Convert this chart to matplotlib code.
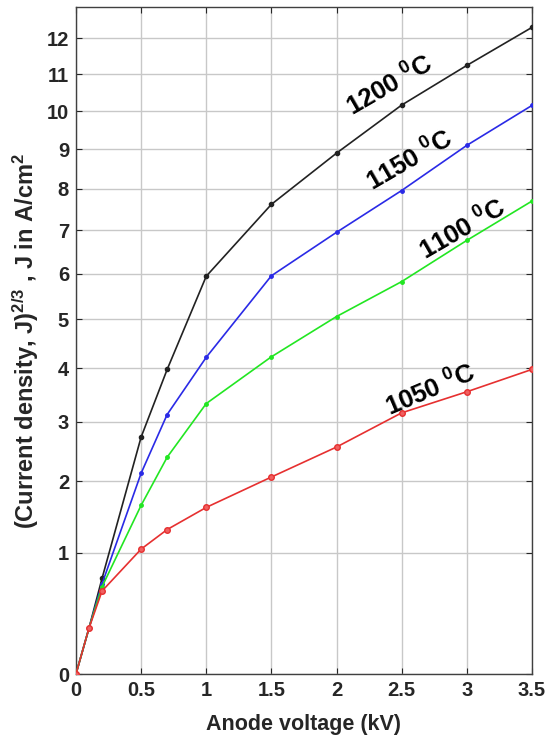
import matplotlib
matplotlib.use('Agg')
import matplotlib.pyplot as plt
import numpy as np

# data (J in A/cm^2, plotted as J^(2/3))
voltage = [0, 0.1, 0.2, 0.5, 0.7, 1.0, 1.5, 2.0, 2.5, 3.0, 3.5]
j_1200 = [0, 0.233, 0.70, 2.73, 3.98, 5.94, 7.62, 8.90, 10.16, 11.24, 12.31]
j_1150 = [0, 0.233, 0.64, 2.13, 3.13, 4.22, 5.95, 6.95, 7.96, 9.10, 10.15]
j_1100 = [0, 0.233, 0.61, 1.64, 2.39, 3.33, 4.23, 5.06, 5.82, 6.76, 7.70]
j_1050 = [0, 0.233, 0.566, 1.045, 1.30, 1.61, 2.07, 2.56, 3.16, 3.55, 3.98]

x_ticks = [0, 0.5, 1, 1.5, 2, 2.5, 3, 3.5]
j_ticks = list(range(0, 13))

labels = ['1200 $^{0}$C', '1150 $^{0}$C', '1100 $^{0}$C', '1050 $^{0}$C']
label_pos = [(2.41, 4.85, 30), (2.56, 4.23, 30), (2.97, 3.66, 30), (2.72, 2.34, 23)]

plt.rcParams['font.family'] = 'Liberation Sans'
plt.rcParams['font.weight'] = 'bold'
plt.rcParams['mathtext.fontset'] = 'custom'
plt.rcParams['mathtext.rm'] = 'Liberation Sans:bold'
plt.rcParams['mathtext.bf'] = 'Liberation Sans:bold'
plt.rcParams['mathtext.default'] = 'bf'

def tf(j):
    return np.power(np.asarray(j, dtype=float), 2.0 / 3.0)

fig = plt.figure(figsize=(5.45, 7.41), dpi=100)
ax = fig.add_axes([0.1394, 0.0904, 0.8366, 0.9002])

ax.plot(voltage, tf(j_1200), color='#222222', lw=1.2, marker='o', ms=3, zorder=3)
ax.plot(voltage, tf(j_1150), color='#2a2ae6', lw=1.2, marker='o', ms=2.5, zorder=3)
ax.plot(voltage, tf(j_1100), color='#22e622', lw=1.2, marker='o', ms=2.5, zorder=3)
ax.plot(voltage, tf(j_1050), color='#e63030', lw=1.2, marker='o', ms=4,
        markerfacecolor='#f06060', zorder=3)

for txt, (x, y, rot) in zip(labels, label_pos):
    ax.text(x, y, txt, fontsize=18.5, fontweight='bold', rotation=rot,
            ha='center', va='center', rotation_mode='anchor', zorder=4)

ax.set_xlim(0, 3.5)
ax.set_ylim(0, 5.5)
ax.set_xticks(x_ticks)
ax.set_xticklabels([('%g' % v) for v in x_ticks])
ax.set_yticks(tf(j_ticks))
ax.set_yticklabels([str(v) for v in j_ticks])
ax.tick_params(direction='in', length=4, width=0.8, labelsize=14.5, colors='#262626',
               top=True, right=True, pad=5)
for s in ax.spines.values():
    s.set_color('#404040')
    s.set_linewidth(1.0)
ax.grid(True, color='#c8c8c8', lw=1.0)
ax.set_axisbelow(True)

ax.set_xlabel('Anode voltage (kV)', fontsize=15.5, fontweight='bold', color='#262626', labelpad=10)
ax.set_ylabel('(Current density, J)$^{2/3}$ , J in A/cm$^{2}$', fontsize=17,
              fontweight='bold', color='#262626', labelpad=4)

fig.savefig('out.png', dpi=100)
